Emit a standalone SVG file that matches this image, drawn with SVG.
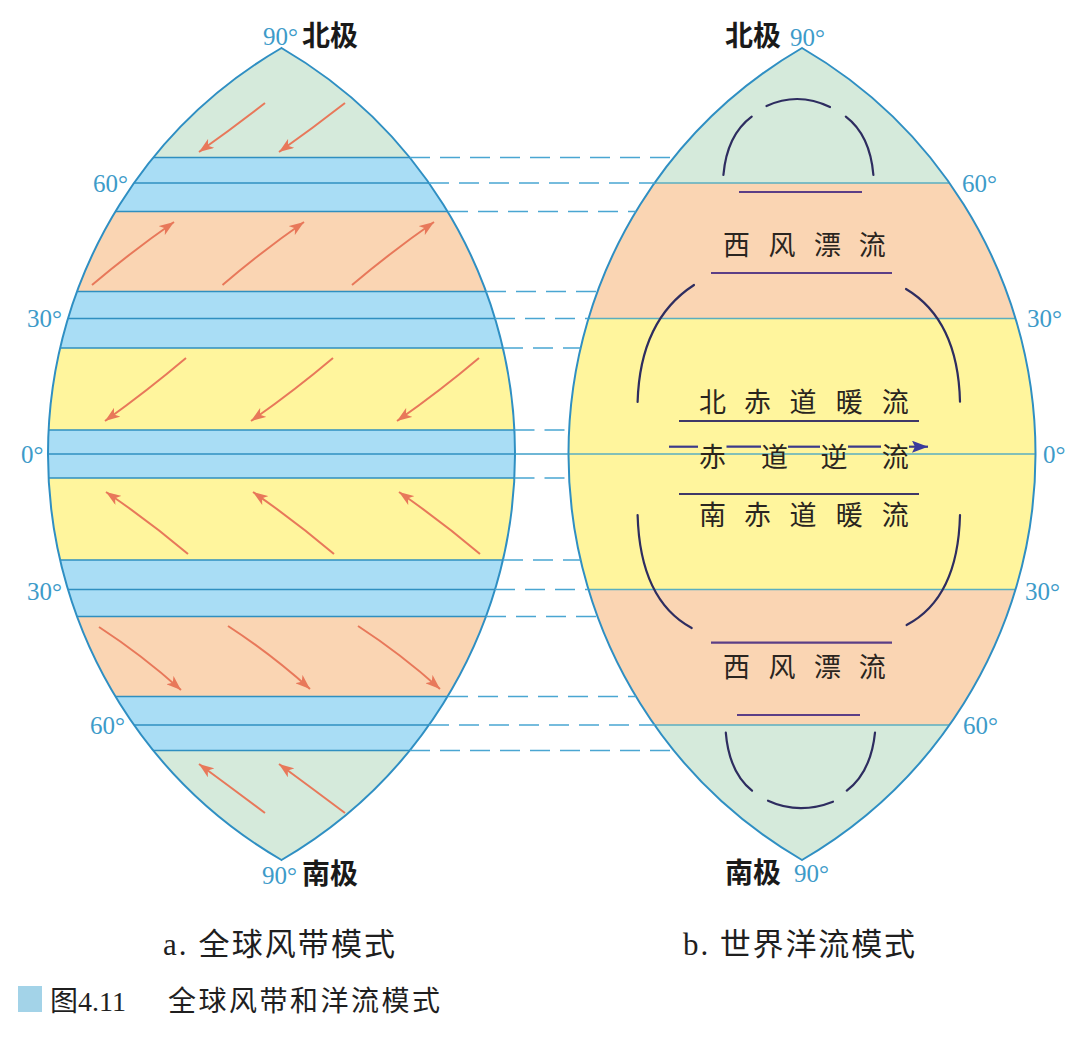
<svg xmlns="http://www.w3.org/2000/svg" width="1080" height="1046" viewBox="0 0 1080 1046">
<style>
.deg{font-family:"Liberation Serif","Times New Roman",serif;font-size:25px;fill:#3d9bc9}
.pole{font-family:"Noto Sans CJK SC",sans-serif;font-weight:bold;font-size:28px;fill:#1a1a1a}
.cur{font-family:"Noto Sans CJK SC",sans-serif;font-size:27px;fill:#2a2520;text-anchor:middle}
.cap{font-family:"Liberation Serif","Noto Sans CJK SC",serif;font-size:31px;fill:#1f1f1f}
.wind{fill:none;stroke:#e8785a;stroke-width:2;marker-end:url(#ah)}
.aline{stroke:#2f8fc0;stroke-width:1.5}
.bline{stroke:#5aaec0;stroke-width:1.5}
.dash{stroke:#4aa6d2;stroke-width:1.5;stroke-dasharray:20 10}
.gyre{fill:none;stroke:#2e2d60;stroke-width:2.2;stroke-linecap:round}
.bar{stroke:#5b3e86;stroke-width:2.2}
.cbar{stroke:#3f3868;stroke-width:2.2}
.outline{fill:none;stroke:#2f8fc3;stroke-width:2}
.g{fill:#d5eadb}.b{fill:#a9ddf5}.o{fill:#fad5b3}.y{fill:#fff59d}
</style>
<defs>
<clipPath id="clipA"><path d="M281.5 48 A469.7 469.7 0 0 0 281.5 860 A469.7 469.7 0 0 0 281.5 48 Z"/></clipPath>
<clipPath id="clipB"><path d="M802 48 A469.7 469.7 0 0 0 802 860 A469.7 469.7 0 0 0 802 48 Z"/></clipPath>
<marker id="ah" viewBox="0 0 15 11" refX="15" refY="5.5" markerWidth="15" markerHeight="11" markerUnits="userSpaceOnUse" orient="auto">
<path d="M0 0 L15 5.5 L0 11 L4 5.5 Z" fill="#e8785a"/>
</marker>
<marker id="nh" viewBox="0 0 16 12" refX="16" refY="6" markerWidth="16" markerHeight="12" markerUnits="userSpaceOnUse" orient="auto">
<path d="M0 0 L16 6 L0 12 L3 6 Z" fill="#3b3a9c"/>
</marker>
</defs>

<g id="lens-a">
<g clip-path="url(#clipA)">
<rect class="g" x="40" y="40" width="490" height="117.5"/>
<rect class="b" x="40" y="157.5" width="490" height="54"/>
<rect class="o" x="40" y="211.5" width="490" height="80"/>
<rect class="b" x="40" y="291.5" width="490" height="56.5"/>
<rect class="y" x="40" y="348" width="490" height="82"/>
<rect class="b" x="40" y="430" width="490" height="48"/>
<rect class="y" x="40" y="478" width="490" height="82"/>
<rect class="b" x="40" y="560" width="490" height="56.5"/>
<rect class="o" x="40" y="616.5" width="490" height="80"/>
<rect class="b" x="40" y="696.5" width="490" height="54"/>
<rect class="g" x="40" y="750.5" width="490" height="120"/>
<g class="aline">
<line x1="40" y1="157.5" x2="530" y2="157.5"/>
<line x1="40" y1="183" x2="530" y2="183"/>
<line x1="40" y1="211.5" x2="530" y2="211.5"/>
<line x1="40" y1="291.5" x2="530" y2="291.5"/>
<line x1="40" y1="318.5" x2="530" y2="318.5"/>
<line x1="40" y1="348" x2="530" y2="348"/>
<line x1="40" y1="430" x2="530" y2="430"/>
<line x1="40" y1="454" x2="530" y2="454"/>
<line x1="40" y1="478" x2="530" y2="478"/>
<line x1="40" y1="560" x2="530" y2="560"/>
<line x1="40" y1="589.5" x2="530" y2="589.5"/>
<line x1="40" y1="616.5" x2="530" y2="616.5"/>
<line x1="40" y1="696.5" x2="530" y2="696.5"/>
<line x1="40" y1="725" x2="530" y2="725"/>
<line x1="40" y1="750.5" x2="530" y2="750.5"/>
</g>
</g>
<path class="outline" d="M281.5 48 A469.7 469.7 0 0 0 281.5 860 A469.7 469.7 0 0 0 281.5 48 Z"/>
</g>

<g id="lens-b">
<g clip-path="url(#clipB)">
<rect class="g" x="560" y="40" width="490" height="143"/>
<rect class="o" x="560" y="183" width="490" height="135.5"/>
<rect class="y" x="560" y="318.5" width="490" height="271"/>
<rect class="o" x="560" y="589.5" width="490" height="135.5"/>
<rect class="g" x="560" y="725" width="490" height="145"/>
<g class="bline">
<line x1="560" y1="183" x2="1050" y2="183"/>
<line x1="560" y1="318.5" x2="1050" y2="318.5"/>
<line x1="560" y1="454" x2="1050" y2="454"/>
<line x1="560" y1="589.5" x2="1050" y2="589.5"/>
<line x1="560" y1="725" x2="1050" y2="725"/>
</g>
</g>
<path class="outline" d="M802 48 A469.7 469.7 0 0 0 802 860 A469.7 469.7 0 0 0 802 48 Z"/>
</g>

<g id="connectors">
<g class="dash">
<line x1="410" y1="157.5" x2="674" y2="157.5"/>
<line x1="429" y1="183" x2="655" y2="183"/>
<line x1="448" y1="211.5" x2="636" y2="211.5"/>
<line x1="486" y1="291.5" x2="597.5" y2="291.5"/>
<line x1="495" y1="318.5" x2="588.5" y2="318.5"/>
<line x1="503" y1="348" x2="580.5" y2="348"/>
<line x1="514.5" y1="430" x2="569" y2="430"/>
<line x1="514.5" y1="478" x2="569" y2="478"/>
<line x1="503" y1="560" x2="580.5" y2="560"/>
<line x1="495" y1="589.5" x2="588.5" y2="589.5"/>
<line x1="486" y1="616.5" x2="597.5" y2="616.5"/>
<line x1="448" y1="696.5" x2="636" y2="696.5"/>
<line x1="429" y1="725" x2="655" y2="725"/>
<line x1="410" y1="750.5" x2="674" y2="750.5"/>
</g>
<line x1="515" y1="454" x2="568.5" y2="454" stroke="#3f9fc8" stroke-width="1.5"/>
</g>

<g id="wind-arrows">
<path class="wind" d="M265 103 Q233 128 199 152"/>
<path class="wind" d="M345 103 Q313 128 279 152"/>
<path class="wind" d="M92 285 Q131 252 174 222"/>
<path class="wind" d="M222.5 285 Q261 252 304 222"/>
<path class="wind" d="M352 285 Q391 252 434 222"/>
<path class="wind" d="M186 358 Q147 391 105 421"/>
<path class="wind" d="M333 358 Q294 391 251 421"/>
<path class="wind" d="M479 358 Q440 391 397 421"/>
<path class="wind" d="M188 554 Q149 521 106 492"/>
<path class="wind" d="M334 554 Q295 521 253 492"/>
<path class="wind" d="M480 554 Q441 521 399 492"/>
<path class="wind" d="M99 627 Q142 655 181 690"/>
<path class="wind" d="M228 626 Q271 654 310 689"/>
<path class="wind" d="M358 626 Q401 654 440 689"/>
<path class="wind" d="M265 813 Q233 789 199 764"/>
<path class="wind" d="M345 813 Q313 789 279 764"/>
</g>

<g id="ocean-currents">
<path class="gyre" d="M766.5 106 Q798 91.5 830 107"/>
<path class="gyre" d="M751.7 116.7 Q727 135 723.4 175"/>
<path class="gyre" d="M845.8 116.7 Q870 135 873.4 175"/>
<line class="bar" x1="739" y1="192" x2="862" y2="192"/>
<line class="bar" x1="711" y1="273" x2="892" y2="273"/>
<path class="gyre" d="M694 285 Q640 320 637.6 402"/>
<path class="gyre" d="M906 289 Q958 320 960 401.7"/>
<line class="cbar" x1="679" y1="421" x2="919" y2="421"/>
<g stroke="#3b3a8a" stroke-width="2.2">
<line x1="669" y1="446.7" x2="698" y2="446.7"/>
<line x1="726.5" y1="446.7" x2="761" y2="446.7"/>
<line x1="788" y1="446.7" x2="820" y2="446.7"/>
<line x1="848" y1="446.7" x2="881" y2="446.7"/>
<line x1="909" y1="446.7" x2="928" y2="446.7" marker-end="url(#nh)"/>
</g>
<line class="cbar" x1="679" y1="494" x2="919" y2="494"/>
<path class="gyre" d="M637.6 515 Q640 600 691.7 628"/>
<path class="gyre" d="M960 515 Q958 598 906.6 625"/>
<line class="bar" x1="711" y1="642.7" x2="892" y2="642.7"/>
<line class="bar" x1="737" y1="715" x2="860" y2="715"/>
<path class="gyre" d="M725.8 732.7 Q729 772 752 790.7"/>
<path class="gyre" d="M768 800.7 Q799 815 833 801.7"/>
<path class="gyre" d="M875 732.7 Q871 772 846.8 790.7"/>
</g>

<g id="current-labels">
<text class="cur" x="736.5 782 827.5 872.3" y="255">西风漂流</text>
<text class="cur" x="712.4 757.6 803.1 849.3 895.2" y="412">北赤道暖流</text>
<text class="cur" x="712.4 774.5 834 895.2" y="467">赤道逆流</text>
<text class="cur" x="712.4 757.6 803.1 849.3 895.2" y="525">南赤道暖流</text>
<text class="cur" x="736.5 782 827.5 872.3" y="677">西风漂流</text>
</g>

<g id="latitude-labels">
<text class="deg" x="263" y="45">90°</text>
<text class="deg" x="93" y="192">60°</text>
<text class="deg" x="27" y="327">30°</text>
<text class="deg" x="21" y="463">0°</text>
<text class="deg" x="27" y="600">30°</text>
<text class="deg" x="90" y="734">60°</text>
<text class="deg" x="262" y="884">90°</text>
<text class="deg" x="790" y="46">90°</text>
<text class="deg" x="962" y="192">60°</text>
<text class="deg" x="1027" y="327">30°</text>
<text class="deg" x="1043" y="463">0°</text>
<text class="deg" x="1025" y="600">30°</text>
<text class="deg" x="963" y="734">60°</text>
<text class="deg" x="794" y="882">90°</text>
<text class="pole" x="302" y="46">北极</text>
<text class="pole" x="302" y="884">南极</text>
<text class="pole" x="725" y="46">北极</text>
<text class="pole" x="725" y="883">南极</text>
</g>

<g id="captions">
<text class="cap" x="163" y="955" textLength="232" lengthAdjust="spacing">a. 全球风带模式</text>
<text class="cap" x="683" y="955" textLength="232" lengthAdjust="spacing">b. 世界洋流模式</text>
<rect x="18" y="986" width="24" height="26" fill="#a3d3e8"/>
<text class="cap" x="50" y="1011" style="font-size:28px">图4.11</text>
<text class="cap" x="168" y="1011" style="font-size:28px" textLength="272" lengthAdjust="spacing">全球风带和洋流模式</text>
</g>
</svg>
